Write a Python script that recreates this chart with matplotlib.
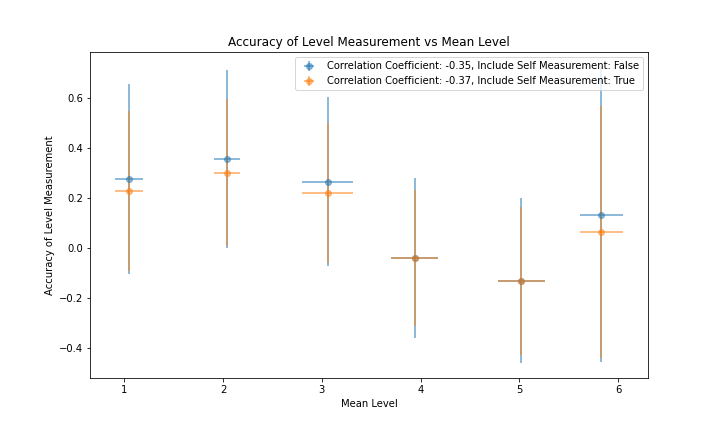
import matplotlib
matplotlib.use("Agg")
import matplotlib.pyplot as plt

# Series: Include Self Measurement = False
x_false = [1.05, 2.04, 3.06, 3.94, 5.02, 5.83]
xerr_false = [0.14, 0.13, 0.26, 0.235, 0.235, 0.215]
y_false = [0.276, 0.355, 0.264, -0.041, -0.132, 0.132]
yerr_false = [0.38, 0.357, 0.337, 0.32, 0.33, 0.59]

# Series: Include Self Measurement = True
x_true = [1.05, 2.04, 3.06, 3.94, 5.02, 5.83]
xerr_true = [0.14, 0.13, 0.26, 0.235, 0.235, 0.215]
y_true = [0.228, 0.300, 0.219, -0.041, -0.132, 0.064]
yerr_true = [0.32, 0.295, 0.28, 0.272, 0.296, 0.504]

label_false = "Correlation Coefficient: -0.35, Include Self Measurement: False"
label_true = "Correlation Coefficient: -0.37, Include Self Measurement: True"

fig, ax = plt.subplots(figsize=(10, 6), dpi=72)
fig.subplots_adjust(left=0.125, right=0.9, top=0.879, bottom=0.125)

ax.errorbar(x_false, y_false, xerr=xerr_false, yerr=yerr_false, fmt='o',
            alpha=0.5, elinewidth=2, markersize=6, label=label_false)
ax.errorbar(x_true, y_true, xerr=xerr_true, yerr=yerr_true, fmt='o',
            alpha=0.5, elinewidth=2, markersize=6, label=label_true)

ax.set_title("Accuracy of Level Measurement vs Mean Level")
ax.set_xlabel("Mean Level")
ax.set_ylabel("Accuracy of Level Measurement")
ax.legend(loc="upper right")

fig.savefig("out.png", dpi=72)
